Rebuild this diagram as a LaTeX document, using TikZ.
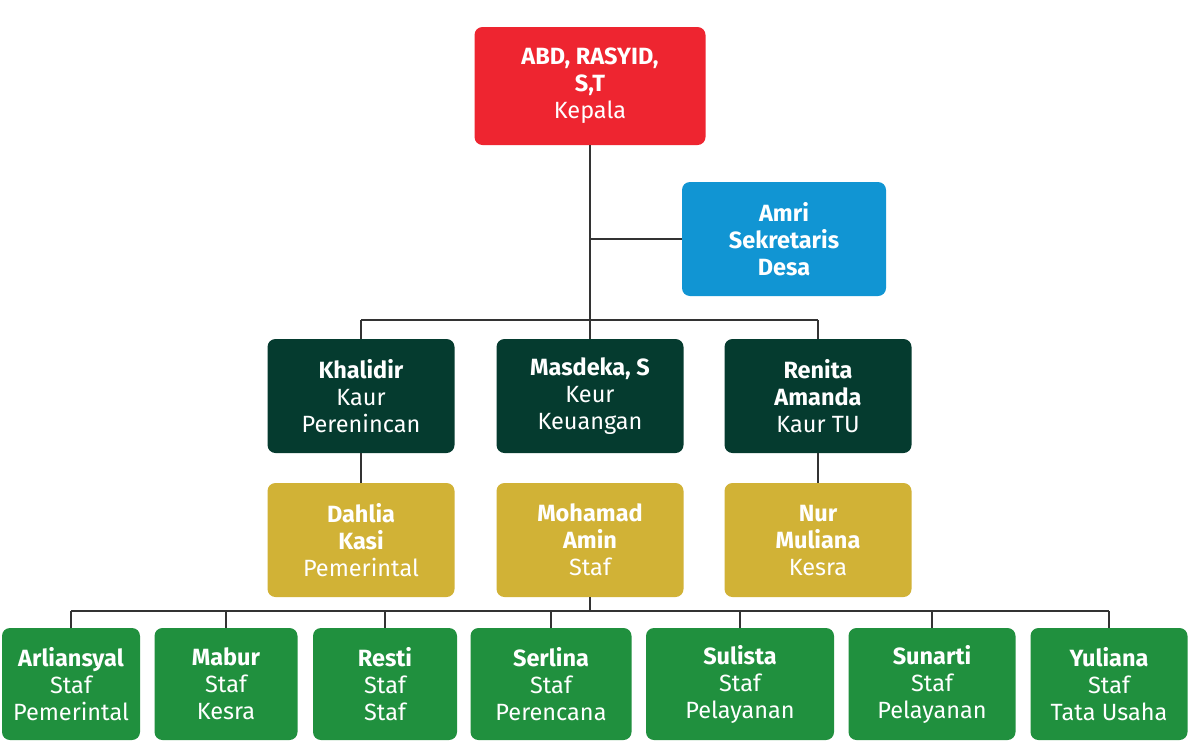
\documentclass[tikz,border=0pt]{standalone}
\usepackage{fontspec}
\setmainfont{Fira Sans}
\usetikzlibrary{positioning,calc}
\definecolor{merah}{HTML}{EE2530}
\definecolor{biru}{HTML}{1195D3}
\definecolor{hijautua}{HTML}{053B2F}
\definecolor{emas}{HTML}{D1B236}
\definecolor{hijau}{HTML}{20903E}
\definecolor{garisabu}{HTML}{333333}
\tikzset{
  jabatan/.style={rectangle, rounded corners=8pt, text=white, align=center,
                  font=\fontsize{23.5}{27}\selectfont, inner sep=0pt},
  kepala/.style={jabatan, fill=merah, minimum width=231pt, minimum height=118pt},
  sekdes/.style={jabatan, fill=biru, minimum width=204pt, minimum height=114pt},
  kaur/.style={jabatan, fill=hijautua, minimum width=187pt, minimum height=114pt},
  kasi/.style={jabatan, fill=emas, minimum width=187pt, minimum height=114pt},
  staf/.style={jabatan, fill=hijau, minimum height=112pt},
  garis/.style={draw=garisabu, line width=2.6pt}
}

\begin{document}
\begin{tikzpicture}[x=1pt, y=-1pt]
  \useasboundingbox[fill=white] (0,0) rectangle (1197,742);
  % --- Pimpinan ---
  \node[kepala] (kep) at (590,86)  {\textbf{ABD, RASYID,}\\\textbf{S,T}\\Kepala};
  \node[sekdes] (sek) at (784,239) {\textbf{Amri}\\\textbf{Sekretaris}\\\textbf{Desa}};
  % --- Kaur ---
  \node[kaur] (kaurA) at (361,396) {\textbf{Khalidir}\\Kaur\\Perenincan};
  \node[kaur] (kaurB) at (590,396) {\textbf{Masdeka, S}\\Keur\\Keuangan};
  \node[kaur] (kaurC) at (818,396) {\textbf{Renita}\\\textbf{Amanda}\\Kaur TU};
  % --- Kasi ---
  \node[kasi] (kasiA) at (361,540) {\textbf{Dahlia}\\\textbf{Kasi}\\Pemerintal};
  \node[kasi] (kasiB) at (590,540) {\textbf{Mohamad}\\\textbf{Amin}\\Staf};
  \node[kasi] (kasiC) at (818,540) {\textbf{Nur}\\\textbf{Muliana}\\Kesra};
  % --- Staf ---
  \foreach \cx/\w/\nm/\rl [count=\i] in {71/138/Arliansyal/Pemerintal, 226/143/Mabur/Kesra,
      385/144/Resti/Staf, 551/161/Serlina/Perencana, 740/188/Sulista/Pelayanan,
      932/167/Sunarti/Pelayanan, 1109/157/Yuliana/Tata Usaha}
    \node[staf, minimum width=\w pt] (s\i) at (\cx,684) {\textbf{\nm}\\Staf\\\rl};

  % --- Garis ---
  \coordinate (busA) at (590,320);
  \coordinate (busB) at (590,611);
  \draw[garis] (kep.south) -- (kep.south |- busA);
  \draw[garis] (kep.south |- sek.west) -- (sek.west);
  \draw[garis] (kaurA.north |- busA) -- (kaurC.north |- busA);
  \foreach \n in {kaurA,kaurB,kaurC} \draw[garis] (\n.north |- busA) -- (\n.north);
  \draw[garis] (kaurA.south) -- (kasiA.north);
  \draw[garis] (kaurC.south) -- (kasiC.north);
  \draw[garis] (kasiB.south) -- (busB);
  \draw[garis] (s1.north |- busB) -- (s7.north |- busB);
  \foreach \i in {1,...,7} \draw[garis] (s\i.north |- busB) -- (s\i.north);
\end{tikzpicture}
\end{document}
